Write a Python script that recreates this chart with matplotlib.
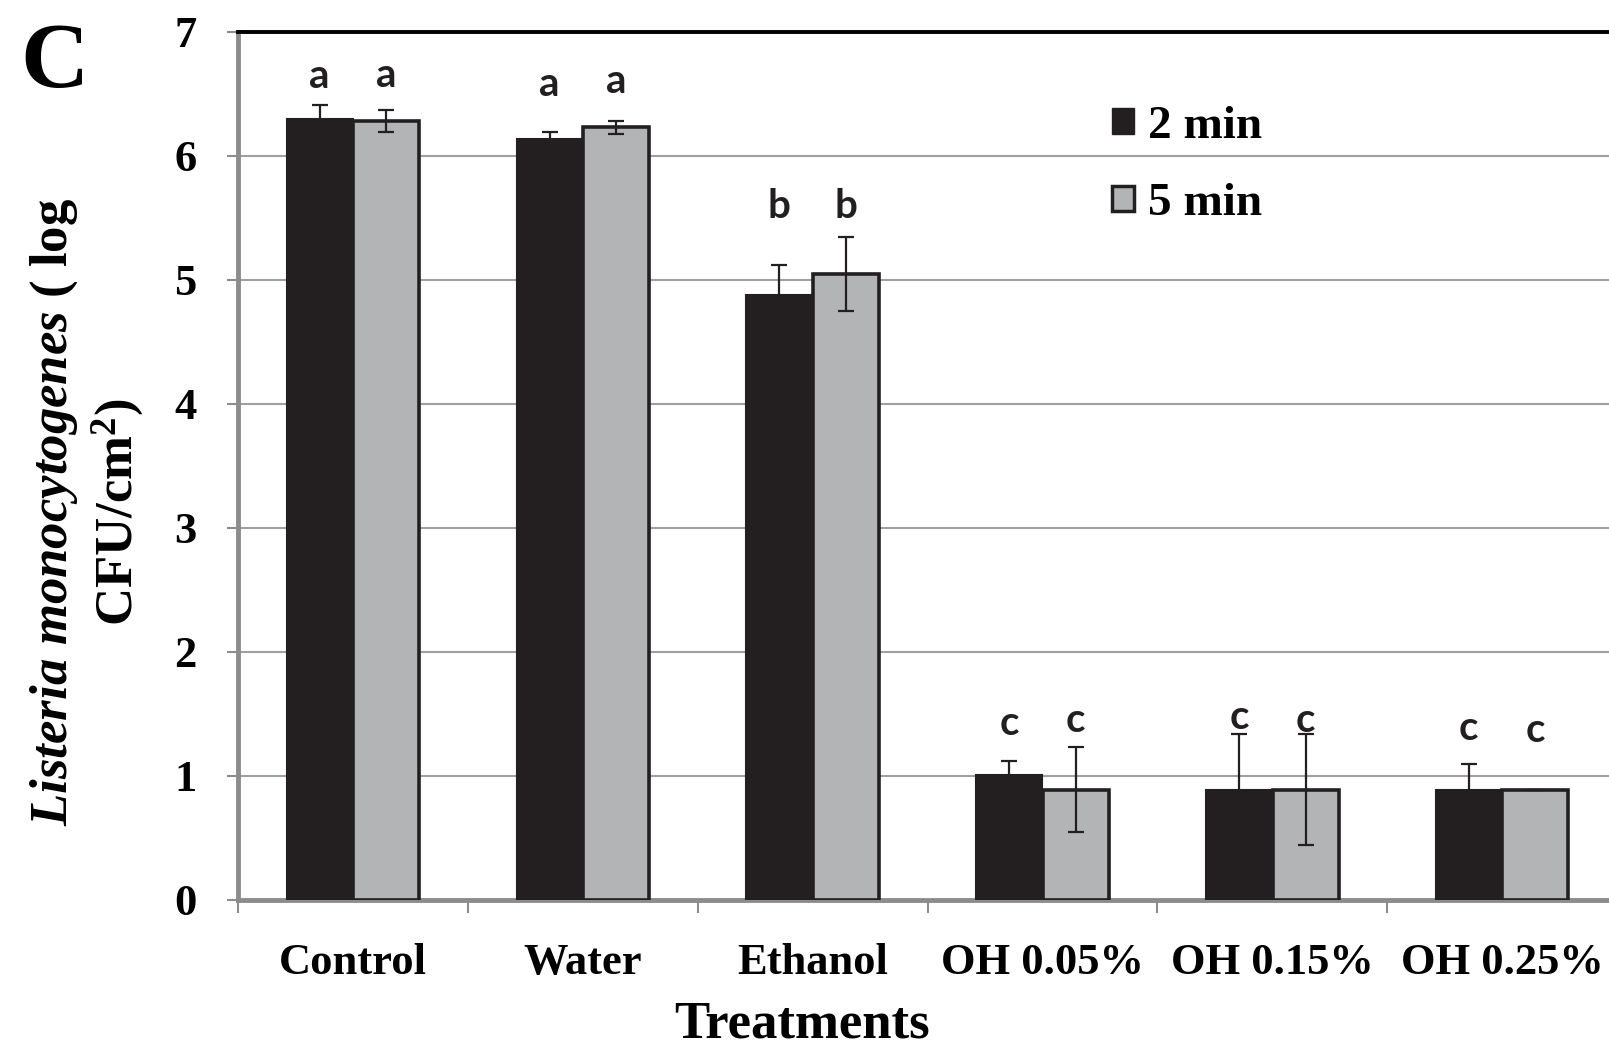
import numpy as np
import matplotlib
matplotlib.use('Agg')
import matplotlib.pyplot as plt
from matplotlib.patches import Patch

plt.rcParams['font.family'] = 'Liberation Serif'
plt.rcParams['font.weight'] = 'bold'
plt.rcParams['mathtext.fontset'] = 'custom'
plt.rcParams['mathtext.rm'] = 'Liberation Serif:bold'
plt.rcParams['mathtext.bf'] = 'Liberation Serif:bold'
plt.rcParams['mathtext.it'] = 'Liberation Serif:italic'

treatments = ['Control', 'Water', 'Ethanol', 'OH 0.05%', 'OH 0.15%', 'OH 0.25%']
mean_2min = [6.30, 6.14, 4.88, 1.01, 0.89, 0.89]
sd_2min = [0.11, 0.05, 0.24, 0.11, 0.45, 0.21]
mean_5min = [6.28, 6.23, 5.05, 0.89, 0.89, 0.89]
sd_5min = [0.09, 0.05, 0.30, 0.34, 0.45, 0.0]
letters_2min = ['a', 'a', 'b', 'c', 'c', 'c']
letters_5min = ['a', 'a', 'b', 'c', 'c', 'c']

# baseline heights of the significance letters
letter_y_2min = [6.55, 6.48, 5.50, 1.33, 1.375, 1.29]
letter_y_5min = [6.56, 6.505, 5.50, 1.357, 1.357, 1.27]

dark = '#231f20'
grey = '#b3b4b6'
axis_grey = '#8c8c8c'

fig = plt.figure(figsize=(16.09, 10.51), dpi=100)
ax = fig.add_axes([0.148, 0.1437, 0.857, 0.8259])

x = np.arange(len(treatments))
w = 0.287
off = 0.145

ax.bar(x - off, mean_2min, w, color=dark, edgecolor=dark, linewidth=1.5, zorder=3)
ax.bar(x + off, mean_5min, w, color=grey, edgecolor=dark, linewidth=2.6, zorder=3)
ax.errorbar(x - off, mean_2min, yerr=sd_2min, fmt='none', ecolor=dark,
            elinewidth=1.6, capsize=5.5, capthick=1.6, zorder=4)
ax.errorbar(x + off, mean_5min, yerr=sd_5min, fmt='none', ecolor=dark,
            elinewidth=1.6, capsize=5.5, capthick=1.6, zorder=4)

for i in range(len(treatments)):
    ax.text(x[i] - off, letter_y_2min[i], letters_2min[i], ha='center', va='baseline',
            fontsize=29, family='Lato', fontweight='bold', color=dark)
    ax.text(x[i] + off, letter_y_5min[i], letters_5min[i], ha='center', va='baseline',
            fontsize=29, family='Lato', fontweight='bold', color=dark)

ax.set_ylim(0, 7)
ax.set_xlim(-0.5, len(treatments) - 0.5)
ax.set_yticks(range(8))
ax.yaxis.grid(True, color='#a0a0a0', linewidth=1.5)
ax.set_axisbelow(True)

ax.set_xticks(x)
ax.set_xticklabels(treatments)
ax.set_xticks(np.arange(-0.5, len(treatments)), minor=True)
ax.tick_params(axis='x', which='major', length=0, pad=31, labelsize=32)
ax.tick_params(axis='x', which='minor', length=9, width=1.5, color=axis_grey, direction='out')
ax.tick_params(axis='y', length=8, width=1.5, color=axis_grey, direction='out', pad=22, labelsize=32)

ax.spines['left'].set_color(axis_grey)
ax.spines['left'].set_linewidth(3.5)
ax.spines['bottom'].set_color(axis_grey)
ax.spines['bottom'].set_linewidth(3.5)
ax.spines['top'].set_color('black')
ax.spines['top'].set_linewidth(2.8)
ax.spines['right'].set_visible(False)

handles = [Patch(facecolor=dark, edgecolor=dark, label='2 min'),
           Patch(facecolor=grey, edgecolor=dark, linewidth=2.5, label='5 min')]
ax.legend(handles=handles, loc='upper left', bbox_to_anchor=(0.634, 0.915),
          frameon=False, fontsize=34, handlelength=0.45, handleheight=0.45,
          handletextpad=0.3, labelspacing=0.75, borderpad=0, borderaxespad=0)

fig.text(87 / 1609, 1 - 512 / 1051,
         r'$\mathit{Listeria\ monocytogenes}$ ( log' + '\n' + r'CFU/cm$^{2}$)',
         rotation=90, ha='center', va='center', multialignment='center',
         fontsize=38, fontweight='bold')
fig.text(802 / 1609, 1 - 1038 / 1051, 'Treatments', ha='center', va='baseline',
         fontsize=38, fontweight='bold')
fig.text(20 / 1609, 1 - 87 / 1051, 'C', ha='left', va='baseline',
         fontsize=68, fontweight='bold')

fig.savefig('out.png', dpi=100)
